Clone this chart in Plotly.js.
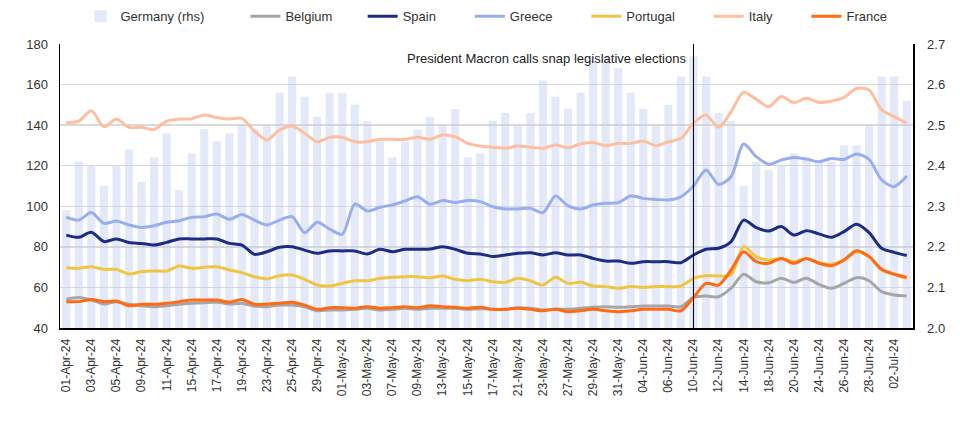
<!DOCTYPE html>
<html>
<head>
<meta charset="utf-8">
<script src="https://cdn.plot.ly/plotly-3.0.1.min.js"></script>
<style>
html,body{margin:0;padding:0;background:#fff;}
#chart{width:960px;height:428px;}
</style>
</head>
<body>
<div id="chart"></div>
<script>
const dates = [
 "01-Apr-24","02-Apr-24","03-Apr-24","04-Apr-24","05-Apr-24","08-Apr-24","09-Apr-24","10-Apr-24","11-Apr-24","12-Apr-24",
 "15-Apr-24","16-Apr-24","17-Apr-24","18-Apr-24","19-Apr-24","22-Apr-24","23-Apr-24","24-Apr-24","25-Apr-24","26-Apr-24",
 "29-Apr-24","30-Apr-24","01-May-24","02-May-24","03-May-24","06-May-24","07-May-24","08-May-24","09-May-24","10-May-24",
 "13-May-24","14-May-24","15-May-24","16-May-24","17-May-24","20-May-24","21-May-24","22-May-24","23-May-24","24-May-24",
 "27-May-24","28-May-24","29-May-24","30-May-24","31-May-24","03-Jun-24","04-Jun-24","05-Jun-24","06-Jun-24","07-Jun-24",
 "10-Jun-24","11-Jun-24","12-Jun-24","13-Jun-24","14-Jun-24","17-Jun-24","18-Jun-24","19-Jun-24","20-Jun-24","21-Jun-24",
 "24-Jun-24","25-Jun-24","26-Jun-24","27-Jun-24","28-Jun-24","01-Jul-24","02-Jul-24","03-Jul-24"
];

const germany = [
 2.29,2.41,2.40,2.35,2.40,2.44,2.36,2.42,2.48,2.34,
 2.43,2.49,2.46,2.48,2.50,2.49,2.50,2.58,2.62,2.57,
 2.52,2.58,2.58,2.55,2.51,2.46,2.42,2.46,2.49,2.52,
 2.50,2.54,2.42,2.43,2.51,2.53,2.50,2.53,2.61,2.57,
 2.54,2.58,2.66,2.67,2.64,2.58,2.54,2.50,2.55,2.62,
 2.67,2.62,2.53,2.51,2.35,2.41,2.39,2.40,2.43,2.42,
 2.41,2.41,2.45,2.45,2.50,2.62,2.62,2.56
];

const belgium = [
 54.1,55.0,53.8,51.8,53.0,51.7,51.0,50.5,51.0,51.7,52.2,52.5,52.7,51.8,52.2,50.8,50.5,
 51.3,51.3,50.5,48.5,48.9,48.9,49.2,49.7,48.9,49.2,49.7,49.2,49.7,49.7,49.7,49.2,49.5,
 49.2,49.2,50.0,49.7,48.9,49.2,49.2,49.7,50.2,50.5,50.2,50.5,50.8,50.8,50.8,50.5,55.1,
 55.8,55.4,59.6,66.5,62.8,62.3,64.5,62.5,64.5,61.5,59.6,62.0,64.8,63.3,57.9,56.3,55.8
];

const spain = [
 85.8,84.7,87.2,82.6,83.9,82.1,81.7,80.9,82.2,83.9,83.9,83.9,83.9,81.7,80.9,76.3,77.6,
 79.8,80.1,78.4,76.8,78.0,78.0,78.0,76.5,78.8,77.6,78.8,78.8,78.9,80.1,78.8,76.8,76.5,
 75.2,76.0,76.8,77.1,76.0,77.1,76.0,76.0,74.3,73.0,73.0,71.9,72.7,72.7,72.7,72.2,76.0,
 78.8,79.3,82.6,93.2,89.5,87.8,90.0,85.8,88.0,86.4,84.7,87.5,91.1,87.0,79.3,77.3,75.7
];

const greece = [
 94.6,93.2,96.9,91.6,92.7,90.8,89.6,90.4,92.1,92.9,94.6,94.9,96.2,93.6,96.0,93.2,90.8,
 93.2,94.9,87.0,92.1,88.8,86.2,101.1,97.7,99.5,100.7,102.6,104.7,101.0,102.8,101.9,102.8,102.3,
 99.8,98.7,98.7,99.0,96.9,105.1,100.2,98.7,100.6,101.5,101.8,105.1,103.9,103.4,103.1,104.7,110.0,
 117.9,110.8,114.6,130.7,124.5,120.7,122.8,124.1,123.3,122.0,123.6,123.1,125.8,123.1,113.0,109.7,114.9
];

const portugal = [
 69.7,69.4,70.2,68.9,68.9,66.6,67.8,68.1,68.1,70.6,69.4,69.9,70.2,68.6,67.3,65.3,64.2,
 65.8,66.1,64.0,61.2,60.7,62.0,63.3,63.3,64.5,65.0,65.3,65.3,64.8,65.6,64.0,63.3,64.0,
 62.8,62.5,64.5,63.3,61.2,65.0,62.0,62.5,60.7,60.4,59.6,60.4,60.0,60.4,60.4,60.7,64.5,
 65.8,65.6,66.1,80.1,75.2,73.5,74.3,72.7,74.3,72.2,71.5,73.5,77.6,75.2,68.6,66.5,64.5
];

const italy = [
 141.2,142.0,147.1,139.2,143.0,138.9,138.9,137.9,142.0,143.0,143.2,145.0,143.8,143.0,143.3,137.1,132.7,
 137.6,139.6,136.0,131.8,134.0,134.0,131.8,131.8,133.0,133.0,133.0,134.0,133.0,135.1,134.3,131.0,129.7,
 129.1,128.6,129.7,129.1,128.6,130.2,128.9,130.7,131.4,129.9,131.0,131.0,132.2,129.9,131.8,133.5,141.0,
 145.0,138.9,146.6,156.2,152.7,149.1,154.1,151.1,153.2,151.2,151.9,153.7,158.1,157.3,147.5,144.2,140.9
];

const france = [
 53.0,53.0,54.1,53.0,53.3,51.0,51.7,51.7,52.2,53.0,53.8,53.8,53.8,52.7,54.1,51.7,51.8,
 52.2,52.7,51.3,49.2,50.0,50.0,49.7,50.5,49.7,50.0,50.5,50.0,51.0,50.5,50.2,49.7,50.2,
 49.2,49.2,49.7,49.2,48.5,49.2,48.0,48.5,49.2,48.5,48.0,48.5,49.2,49.2,49.2,48.5,55.0,
 62.0,61.2,68.6,77.6,72.7,71.9,74.3,71.9,74.3,71.9,70.7,73.5,78.1,75.2,68.9,66.5,65.0
];

const seriesNames = ["Germany (rhs)", "Belgium", "Spain", "Greece", "Portugal", "Italy", "France"];
const eventDate = "10-Jun-24";
const eventText = "President Macron calls snap legislative elections";
const tickLabels = dates.filter((d, i) => i % 2 === 0);

const FONT = "Arial, 'Liberation Sans', sans-serif";
// trailing non-breaking spaces widen legend entries (spacing only)
const pad = n => "\u00A0".repeat(n);
const legendPad = [10, 7, 8, 8, 8, 8, 0];

function line(k, y, color) {
  return {
    type: "scatter", mode: "lines", name: seriesNames[k] + pad(legendPad[k]), x: dates, y: y,
    yaxis: "y2",
    line: {color: color, width: 3, shape: "spline", smoothing: 0.8},
    hoverinfo: "skip"
  };
}

const traces = [
  {type: "bar", name: seriesNames[0] + pad(legendPad[0]), x: dates, y: germany, yaxis: "y",
   marker: {color: "#C4D0F2", line: {width: 0}}, opacity: 0.45, hoverinfo: "skip"},
  line(1, belgium, "#A6A6A6"),
  line(2, spain, "#1C2D83"),
  line(3, greece, "#98AEEE"),
  line(4, portugal, "#F0C542"),
  line(5, italy, "#FFBF9F"),
  line(6, france, "#FF6A13")
];

const layout = {
  width: 960, height: 428,
  margin: {l: 60, r: 47, t: 44, b: 100, autoexpand: false},
  paper_bgcolor: "#fff", plot_bgcolor: "#fff",
  font: {family: FONT, size: 13, color: "#333"},
  bargap: 0.35,
  showlegend: true,
  legend: {orientation: "h", x: 0.5, xanchor: "center", yref: "container", y: 0.962, yanchor: "middle",
           font: {size: 13, color: "#333"}, traceorder: "normal"},
  xaxis: {type: "category", range: [-0.5, dates.length - 0.5],
          tickmode: "array", tickvals: tickLabels, ticktext: tickLabels,
          tickangle: -90, tickfont: {size: 12, color: "#333"}, ticklabelstandoff: 4,
          showgrid: false, showline: true, linecolor: "#000", linewidth: 2,
          ticks: "", zeroline: false, automargin: false},
  yaxis: {side: "right", range: [2.0, 2.7], dtick: 0.1, tick0: 2.0, tickformat: ".1f",
          showgrid: false, showline: true, linecolor: "#000", linewidth: 1.5,
          ticks: "", zeroline: false, tickfont: {size: 13, color: "#333"}, ticklabelstandoff: 10,
          automargin: false},
  yaxis2: {overlaying: "y", side: "left", range: [40, 180], dtick: 20, tick0: 40,
           showgrid: true, gridcolor: "#D9D9D9", gridwidth: 1.5,
           showline: true, linecolor: "#000", linewidth: 1.5, ticks: "", zeroline: false,
           tickfont: {size: 13, color: "#333"}, ticklabelstandoff: 8, automargin: false},
  shapes: [{type: "line", xref: "x", yref: "paper", x0: eventDate, x1: eventDate, y0: 0, y1: 1,
            line: {color: "#000", width: 1}}],
  annotations: [{xref: "x", yref: "paper", x: eventDate, y: 0.95, xanchor: "right", yanchor: "middle",
                 xshift: -5, text: eventText, showarrow: false,
                 font: {size: 13, color: "#222", family: FONT}}]
};

Plotly.newPlot("chart", traces, layout, {displayModeBar: false, staticPlot: true});
</script>
</body>
</html>
